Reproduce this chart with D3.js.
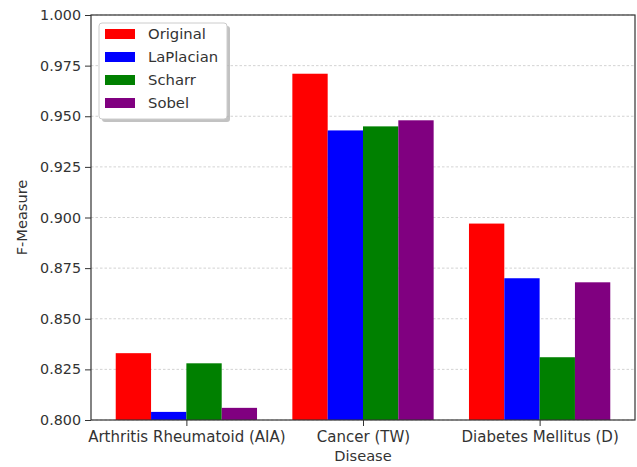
<!DOCTYPE html>
<html>
<head>
<meta charset="utf-8">
<script src="https://cdn.jsdelivr.net/npm/d3@7"></script>
<style>
  html, body { margin: 0; padding: 0; background: #fff; }
  svg { display: block; font-family: "DejaVu Sans", sans-serif; }
</style>
</head>
<body>
<svg id="chart" width="637" height="467"></svg>
<script>
// Disease groups along the x axis
const diseases = ["Arthritis Rheumatoid (AIA)", "Cancer (TW)", "Diabetes Mellitus (D)"];
// Edge-detection methods (one bar each per disease)
const methods = ["Original", "LaPlacian", "Scharr", "Sobel"];
const methodColors = ["#ff0000", "#0000ff", "#008000", "#800080"];
// F-Measure per method, in disease order
const original = [0.833, 0.971, 0.897];
const laplacian = [0.804, 0.943, 0.870];
const scharr = [0.828, 0.945, 0.831];
const sobel = [0.806, 0.948, 0.868];
const yTicks = [0.800, 0.825, 0.850, 0.875, 0.900, 0.925, 0.950, 0.975, 1.000];

const seriesValues = [original, laplacian, scharr, sobel];

const svg = d3.select("#chart");
const margin = { left: 91, right: 2, top: 15, bottom: 47 };
const W = 637, H = 467;
const plotW = W - margin.left - margin.right;
const plotH = H - margin.top - margin.bottom;

const barW = 0.2;
// numeric x: group i sits at i, bars offset by (j - 1.5) * barW
const x = d3.scaleLinear().domain([-0.54, 2.54]).range([margin.left, margin.left + plotW]);
const y = d3.scaleLinear().domain([0.8, 1.0]).range([margin.top + plotH, margin.top]);

// dashed horizontal grid
svg.append("g")
  .selectAll("line")
  .data(yTicks)
  .join("line")
  .attr("x1", margin.left).attr("x2", margin.left + plotW)
  .attr("y1", d => y(d)).attr("y2", d => y(d))
  .attr("stroke", "#c8c8c8").attr("stroke-width", 0.8)
  .attr("stroke-dasharray", "2.5,2");

// bars
const bars = [];
seriesValues.forEach((vals, j) => {
  vals.forEach((v, i) => bars.push({ i, j, v }));
});
svg.append("g")
  .selectAll("rect")
  .data(bars)
  .join("rect")
  .attr("x", d => x(d.i + (d.j - 2) * barW))
  .attr("width", d => x(barW) - x(0))
  .attr("y", d => y(d.v))
  .attr("height", d => y(0.8) - y(d.v))
  .attr("fill", d => methodColors[d.j]);

// frame
svg.append("rect")
  .attr("x", margin.left).attr("y", margin.top)
  .attr("width", plotW).attr("height", plotH)
  .attr("fill", "none").attr("stroke", "#333").attr("stroke-width", 1.2);

// y axis
const yAxis = d3.axisLeft(y).tickValues(yTicks).tickFormat(d3.format(".3f")).tickSize(6).tickPadding(4);
const gy = svg.append("g").attr("transform", `translate(${margin.left},0)`).call(yAxis);
gy.select(".domain").remove();
gy.selectAll("line").attr("stroke", "#333");
gy.selectAll("text").attr("font-size", 14.3).attr("fill", "#333").attr("font-family", "DejaVu Sans, sans-serif");

// x axis
const xAxis = d3.axisBottom(x).tickValues([0, 1, 2]).tickFormat(i => diseases[i]).tickSize(6).tickPadding(5);
const gx = svg.append("g").attr("transform", `translate(0,${margin.top + plotH})`).call(xAxis);
gx.select(".domain").remove();
gx.selectAll("line").attr("stroke", "#333");
gx.selectAll("text").attr("font-size", 15).attr("fill", "#333").attr("font-family", "DejaVu Sans, sans-serif");

// axis titles
svg.append("text")
  .attr("x", margin.left + plotW / 2).attr("y", 461)
  .attr("text-anchor", "middle").attr("font-size", 14.6).attr("fill", "#333")
  .text("Disease");
svg.append("text")
  .attr("transform", `translate(27,${margin.top + plotH / 2}) rotate(-90)`)
  .attr("text-anchor", "middle").attr("font-size", 14.6).attr("fill", "#333")
  .text("F-Measure");

// legend
const lg = svg.append("g").attr("transform", "translate(99,23)");
lg.append("rect").attr("x", 3).attr("y", 3).attr("width", 128).attr("height", 96)
  .attr("rx", 3).attr("fill", "#999").attr("opacity", 0.6);
lg.append("rect").attr("x", 0).attr("y", 0).attr("width", 128).attr("height", 96)
  .attr("rx", 3).attr("fill", "#fff").attr("stroke", "#ccc").attr("stroke-width", 1);
methods.forEach((m, k) => {
  const cy = 11 + k * 23;
  lg.append("rect").attr("x", 6).attr("y", cy - 5).attr("width", 30).attr("height", 10)
    .attr("fill", methodColors[k]);
  lg.append("text").attr("x", 49).attr("y", cy + 5)
    .attr("font-size", 14.8).attr("fill", "#333").text(m);
});
</script>
</body>
</html>
